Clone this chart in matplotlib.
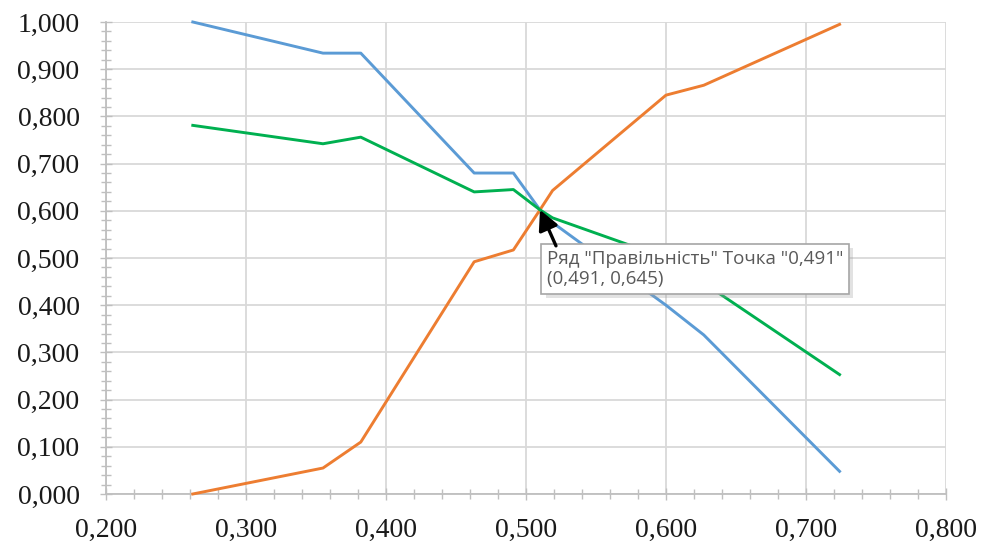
import matplotlib
matplotlib.use("Agg")
import matplotlib.pyplot as plt
from matplotlib.ticker import MultipleLocator, FuncFormatter
import matplotlib.patheffects as pe

# Data (thresholds and three metric series)
thresholds = [0.262, 0.355, 0.382, 0.463, 0.491, 0.510, 0.519, 0.600, 0.627, 0.724]
blue_vals = [1.000, 0.934, 0.934, 0.680, 0.680, 0.602, 0.575, 0.400, 0.337, 0.048]
orange_vals = [0.000, 0.055, 0.110, 0.492, 0.517, 0.602, 0.643, 0.845, 0.866, 0.995]
green_vals = [0.781, 0.742, 0.756, 0.640, 0.645, 0.602, 0.585, 0.500, 0.447, 0.253]

tooltip_series = "Правільність"
tooltip_x = 0.491
tooltip_y = 0.645
cursor_point = (0.510, 0.602)

fig = plt.figure(figsize=(9.86, 5.47), dpi=100)
ax = fig.add_axes([0.1075, 0.0969, 0.8519, 0.8629])

ax.plot(thresholds, blue_vals, color="#5B9BD5", lw=2.1, clip_on=False, zorder=3)
ax.plot(thresholds, orange_vals, color="#ED7D31", lw=2.1, clip_on=False, zorder=3)
ax.plot(thresholds, green_vals, color="#00B050", lw=2.1, clip_on=False, zorder=4)

ax.set_xlim(0.2, 0.8)
ax.set_ylim(0.0, 1.0)

ax.xaxis.set_major_locator(MultipleLocator(0.1))
ax.xaxis.set_minor_locator(MultipleLocator(0.02))
ax.yaxis.set_major_locator(MultipleLocator(0.1))
ax.yaxis.set_minor_locator(MultipleLocator(0.02))

fmt = FuncFormatter(lambda v, p: f"{v:.3f}".replace(".", ","))
ax.xaxis.set_major_formatter(fmt)
ax.yaxis.set_major_formatter(fmt)

ax.grid(True, which="major", color="#d9d9d9", lw=1.3, zorder=0)
ax.set_axisbelow(True)

for s in ["top", "right"]:
    ax.spines[s].set_visible(False)
for s in ["left", "bottom"]:
    ax.spines[s].set_color("#bfbfbf")
    ax.spines[s].set_linewidth(1.3)

ax.tick_params(which="both", direction="inout", color="#bfbfbf", width=1.0)
ax.tick_params(which="major", length=8)
ax.tick_params(which="minor", length=7)
ax.tick_params(axis="x", which="major", pad=13)
ax.tick_params(axis="y", which="major", pad=15)

for lab in ax.get_xticklabels() + ax.get_yticklabels():
    lab.set_fontfamily("Liberation Serif")
    lab.set_fontsize(20)
    lab.set_color("#1a1a1a")

# Tooltip
def c(v):
    return f"{v:.3f}".replace(".", ",")

tip_text = (f'Ряд "{tooltip_series}" Точка "{c(tooltip_x)}"\n'
            f'({c(tooltip_x)}, {c(tooltip_y)})')
t = ax.annotate(tip_text, xy=cursor_point, xycoords="data",
                xytext=(7, -40), textcoords="offset pixels",
                ha="left", va="top", fontsize=13.5, family="Open Sans",
                color="#595959", linespacing=1.15, zorder=10,
                bbox=dict(boxstyle="square,pad=0.3", fc="white", ec="#a6a6a6", lw=1.2))
t.get_bbox_patch().set_path_effects([
    pe.withSimplePatchShadow(offset=(3, -3), shadow_rgbFace="#9f9f9f", alpha=0.3)])

# Mouse cursor
ax.annotate("", xy=cursor_point, xycoords="data",
            xytext=(16, -36), textcoords="offset pixels", zorder=11,
            arrowprops=dict(arrowstyle="-|>,head_length=0.75,head_width=0.38",
                            color="black", lw=2.4, shrinkA=0, shrinkB=0,
                            mutation_scale=16))

fig.savefig("out.png", dpi=100)
